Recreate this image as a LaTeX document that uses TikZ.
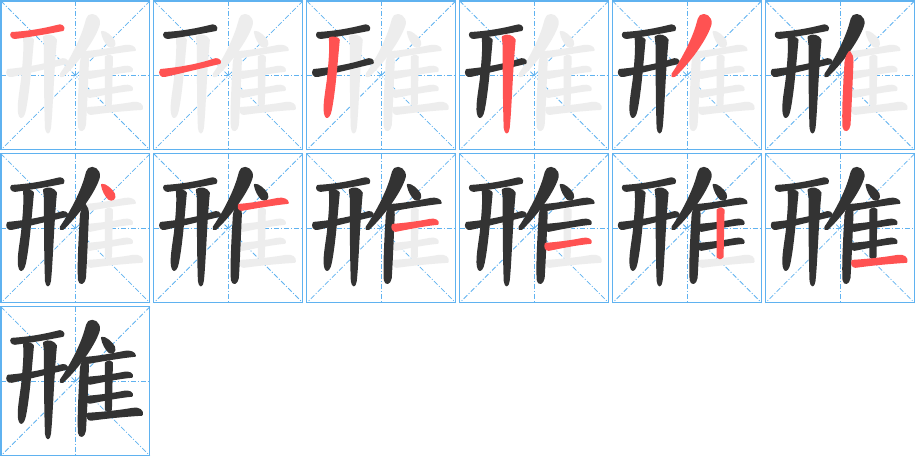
\documentclass[tikz,border=0pt]{standalone}
\usepackage{tikz}

\definecolor{ink}{HTML}{333333}
\definecolor{cur}{HTML}{FF5252}
\definecolor{todo}{HTML}{EDEDED}
\definecolor{guide}{RGB}{95,178,240}

\tikzset{
  frame/.style={draw=guide, line width=0.55pt},
  helper/.style={draw=guide, line width=0.4pt, dash pattern=on 2.5pt off 1pt on 0.5pt off 1pt},
  brush/.style={line width=1pt, line join=round},
  st1/.style={insert path={(12,33) .. controls (30,32) and (45,29) .. (57,26) .. controls (61,24) and (65,27) .. (63,30) .. controls (48,33) and (30,36) .. (15,38) .. controls (12,38) and (10,35) .. cycle}},
  st2/.style={insert path={(8,70) .. controls (30,68) and (48,64) .. (60,60) .. controls (64,58) and (68,60) .. (67,63) .. controls (50,67) and (30,72) .. (12,76) .. controls (8,77) and (6,73) .. cycle}},
  st3/.style={insert path={(24,38) .. controls (28,37) and (32,38) .. (33,40) .. controls (31,60) and (29,90) .. (25,110) .. controls (24,116) and (21,119) .. (20,116) .. controls (17,110) and (20,95) .. (22,80) .. controls (24,60) and (25,48) .. cycle}},
  st4/.style={insert path={(44,37) .. controls (48,34) and (54,36) .. (56,40) .. controls (53,70) and (52,110) .. (50,128) .. controls (49,134) and (47,134) .. (46,128) .. controls (45,100) and (45,70) .. (45,45) -- cycle}},
  st5/.style={insert path={(89,16) .. controls (93,13) and (100,17) .. (99,24) .. controls (96,36) and (80,60) .. (63,76) .. controls (61,77) and (60,76) .. (61,74) .. controls (72,58) and (82,38) .. (86,23) .. controls (87,20) and (87,18) .. cycle}},
  st6/.style={insert path={(85,52) .. controls (87,54) and (88,57) .. (88,62) .. controls (87,85) and (86,110) .. (85,125) .. controls (84,131) and (80,132) .. (79,127) .. controls (78,110) and (80,80) .. (81,62) .. controls (82,57) and (83,54) .. cycle}},
  st7/.style={insert path={(102,32) .. controls (105,31) and (112,37) .. (114,41) .. controls (116,46) and (112,48) .. (109,46) .. controls (106,43) and (103,38) .. cycle}},
  st8/.style={insert path={(86,52) .. controls (100,51) and (115,48) .. (125,46) .. controls (130,45) and (135,47) .. (135,50) .. controls (125,51) and (105,54) .. (89,57) .. controls (86,57) and (85,54) .. cycle}},
  st9/.style={insert path={(87,72) .. controls (100,71) and (115,69) .. (124,67) .. controls (129,66) and (133,68) .. (132,71) .. controls (120,72) and (105,75) .. (90,78) .. controls (87,78) and (86,75) .. cycle}},
  st10/.style={insert path={(87,91) .. controls (100,90) and (115,88) .. (124,86) .. controls (129,85) and (133,87) .. (132,90) .. controls (120,91) and (105,94) .. (90,97) .. controls (87,97) and (86,94) .. cycle}},
  st11/.style={insert path={(106,57) .. controls (108,55) and (111,55) .. (112,57) -- (111,104) .. controls (110,106) and (107,106) .. (106,104) -- cycle}},
  st12/.style={insert path={(88,108) .. controls (105,107) and (122,105) .. (133,103) .. controls (139,102) and (143,105) .. (142,109) .. controls (125,110) and (105,112) .. (91,114) .. controls (88,114) and (87,111) .. cycle}}
}

\begin{document}
\begin{tikzpicture}[x=0.5pt, y=-0.5pt]
\fill [white] (0,0) rectangle (915,456);
\foreach \pnl in {1,...,13} {
  \pgfmathtruncatemacro\col{mod(\pnl-1,6)}
  \pgfmathtruncatemacro\row{div(\pnl-1,6)}
  \begin{scope}[shift={(153*\col,153*\row)}]
    \draw [helper] (75.5,1) -- (75.5,150);
    \draw [helper] (1,75.5) -- (150,75.5);
    \draw [helper] (1,1) -- (150,150);
    \draw [helper] (150,1) -- (1,150);
    \draw [frame] (1,1) rectangle (150,150);
    % strokes still to come, underneath
    \foreach \stk in {1,...,12} {
      \ifnum\stk>\pnl \filldraw [todo, brush, st\stk]; \fi
    }
    \foreach \stk in {1,...,12} {
      \ifnum\stk<\pnl \filldraw [ink, brush, st\stk]; \fi
      \ifnum\stk=\pnl \filldraw [cur, brush, st\stk]; \fi
    }
  \end{scope}
}
\end{tikzpicture}
\end{document}
